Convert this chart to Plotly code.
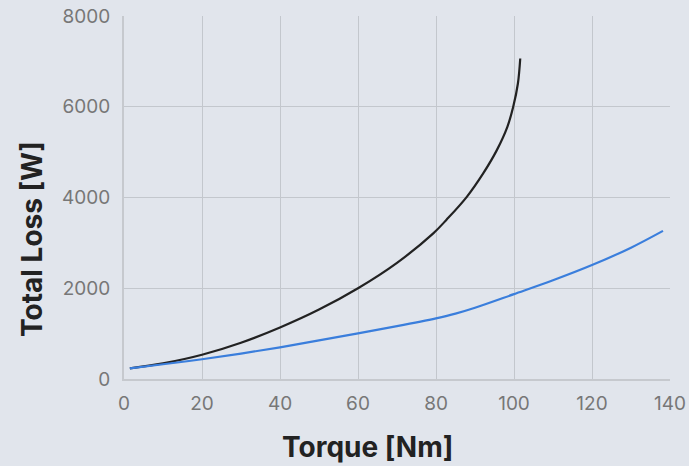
import plotly.graph_objects as go

# Data
black_torque = [1.5, 10, 20, 30, 40, 50, 60, 70, 79.3, 82.7, 87.9, 92.1, 95.6, 98.3, 99.8, 101.0, 101.6]
black_loss = [235, 345, 535, 800, 1135, 1530, 2000, 2560, 3209, 3510, 4015, 4531, 5044, 5557, 6000, 6513, 7064]

blue_torque = [1.5, 10, 20, 30, 40, 50, 60, 70, 80, 85, 90, 100, 110, 120, 130, 138.2]
blue_loss = [235, 325, 435, 560, 698, 850, 1006, 1165, 1337, 1440, 1570, 1870, 2175, 2510, 2895, 3265]

x_ticks = [0, 20, 40, 60, 80, 100, 120, 140]
y_ticks = [0, 2000, 4000, 6000, 8000]

x_title = "Torque [Nm]"
y_title = "Total Loss [W]"

BG = "#e1e5ec"
GRID = "#c3c7cd"
FONT = "Inter"

fig = go.Figure()
fig.add_trace(go.Scatter(x=black_torque, y=black_loss, mode="lines",
                         line=dict(color="#222222", width=2.2, shape="spline", smoothing=1.0),
                         showlegend=False, hoverinfo="skip"))
fig.add_trace(go.Scatter(x=blue_torque, y=blue_loss, mode="lines",
                         line=dict(color="#3a7edc", width=2.2, shape="spline", smoothing=1.0),
                         showlegend=False, hoverinfo="skip"))

fig.update_layout(
    width=689, height=466,
    margin=dict(l=124, r=19, t=16, b=87, autoexpand=False),
    paper_bgcolor=BG, plot_bgcolor=BG,
    font=dict(family=FONT, color="#777777", size=19),
    xaxis=dict(range=[0, 140], tickvals=x_ticks, showgrid=True, gridcolor=GRID, gridwidth=1,
               zeroline=False, showline=True, linecolor="#c6c9ce", linewidth=2,
               automargin=False,
               ticks="", ticklabelstandoff=6, tickfont=dict(size=19, color="#777777")),
    yaxis=dict(range=[0, 8000], tickvals=y_ticks, showgrid=True, gridcolor=GRID, gridwidth=1,
               zeroline=False, showline=True, linecolor="#c6c9ce", linewidth=2,
               automargin=False,
               ticks="", ticklabelstandoff=8, tickfont=dict(size=19, color="#777777")),
    annotations=[
        dict(text=x_title, xref="paper", yref="paper", x=0.446, y=-0.1865,
             xanchor="center", yanchor="middle", showarrow=False,
             font=dict(family=FONT, size=28, color="#222222", weight="bold")),
        dict(text=y_title, xref="paper", yref="paper", x=-0.1685, y=0.3857,
             xanchor="center", yanchor="middle", showarrow=False, textangle=-90,
             font=dict(family=FONT, size=28, color="#222222", weight="bold")),
    ],
)

fig.write_html(
    "out.html",
    config={"displayModeBar": False},
    post_script="document.body.style.margin='0';document.body.style.background='%s';" % BG,
)
